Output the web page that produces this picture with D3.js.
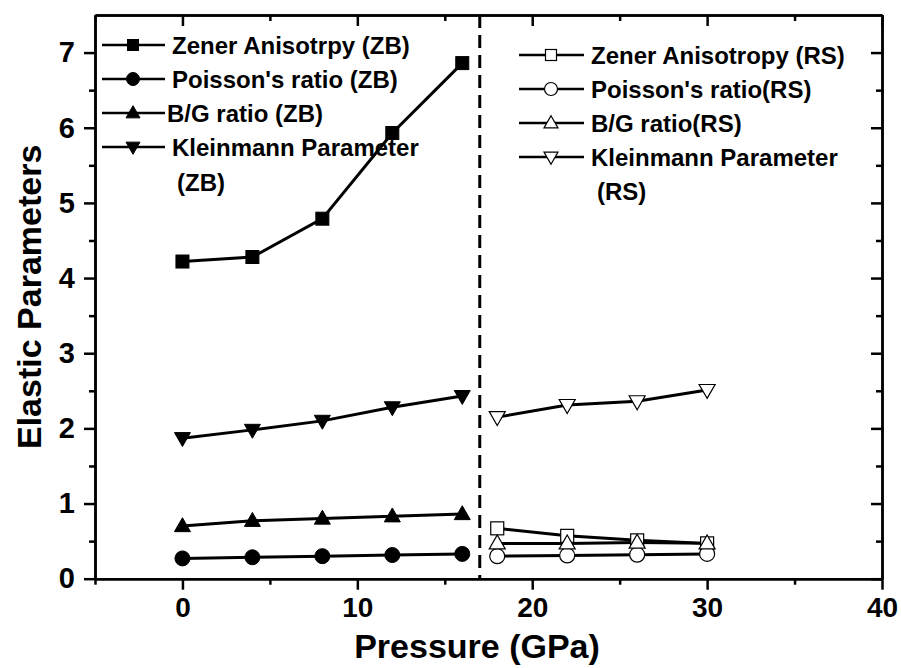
<!DOCTYPE html>
<html>
<head>
<meta charset="utf-8">
<script src="https://cdn.jsdelivr.net/npm/d3@7"></script>
<style>
  body { margin: 0; background: #fff; }
  svg { display: block; }
  text { font-family: "Liberation Sans", Arial, sans-serif; font-weight: bold; fill: #000; }
</style>
</head>
<body>
<svg id="chart" width="901" height="668"></svg>
<script>
// ---- data ----
const pressureZB = [0, 4, 8, 12, 16];
const pressureRS = [18, 22, 26, 30];
const zenerZB = [4.22, 4.28, 4.79, 5.93, 6.86];
const poissonZB = [0.27, 0.285, 0.30, 0.315, 0.33];
const bgZB = [0.70, 0.77, 0.80, 0.83, 0.86];
const kleinZB = [1.87, 1.98, 2.10, 2.28, 2.43];
const zenerRS = [0.67, 0.57, 0.51, 0.47];
const poissonRS = [0.30, 0.31, 0.32, 0.33];
const bgRS = [0.47, 0.47, 0.48, 0.47];
const kleinRS = [2.15, 2.31, 2.36, 2.51];
const xMajorTicks = [0, 10, 20, 30, 40];
const xMinorTicks = [-5, 5, 15, 25, 35];
const yMajorTicks = [0, 1, 2, 3, 4, 5, 6, 7];
const yMinorTicks = [0.5, 1.5, 2.5, 3.5, 4.5, 5.5, 6.5];
const transitionPressure = 17;
const legendZB = ["Zener Anisotrpy (ZB)", "Poisson's ratio (ZB)", "B/G ratio (ZB)", "Kleinmann Parameter"];
const legendRS = ["Zener Anisotropy (RS)", "Poisson's ratio(RS)", "B/G ratio(RS)", "Kleinmann Parameter"];

const svg = d3.select("#chart");
const L = 95, R = 882, T = 15, B = 578.7;
const x = d3.scaleLinear().domain([-5, 40]).range([L, R]);
const y = d3.scaleLinear().domain([0, 7.5]).range([B, T]);

// ---- axes ----
function styleAxis(g) {
  g.selectAll("path.domain").attr("stroke", "#000").attr("stroke-width", 2.5);
  g.selectAll(".tick line").attr("stroke", "#000").attr("stroke-width", 2.5);
}
const gx = svg.append("g").attr("transform", `translate(0,${B})`)
  .call(d3.axisBottom(x).tickValues(xMajorTicks).tickSize(11).tickSizeOuter(0).tickPadding(7).tickFormat(d3.format("d")));
gx.selectAll("text").style("font-size", "28px");
styleAxis(gx);
const gxm = svg.append("g").attr("transform", `translate(0,${B})`)
  .call(d3.axisBottom(x).tickValues(xMinorTicks).tickSize(6).tickSizeOuter(0).tickFormat(""));
styleAxis(gxm);

const gy = svg.append("g").attr("transform", `translate(${L},0)`)
  .call(d3.axisLeft(y).tickValues(yMajorTicks).tickSize(11).tickSizeOuter(0).tickPadding(9).tickFormat(d3.format("d")));
gy.selectAll("text").style("font-size", "29px");
styleAxis(gy);
const gym = svg.append("g").attr("transform", `translate(${L},0)`)
  .call(d3.axisLeft(y).tickValues(yMinorTicks).tickSize(6).tickSizeOuter(0).tickFormat(""));
styleAxis(gym);

const gt = svg.append("g").attr("transform", `translate(0,${T})`)
  .call(d3.axisTop(x).tickValues(xMajorTicks).tickSize(-11).tickSizeOuter(0).tickFormat(""));
styleAxis(gt);
const gtm = svg.append("g").attr("transform", `translate(0,${T})`)
  .call(d3.axisTop(x).tickValues(xMinorTicks).tickSize(-6).tickSizeOuter(0).tickFormat(""));
styleAxis(gtm);
const gr = svg.append("g").attr("transform", `translate(${R},0)`)
  .call(d3.axisRight(y).tickValues(yMajorTicks).tickSize(-11).tickSizeOuter(0).tickFormat(""));
styleAxis(gr);
const grm = svg.append("g").attr("transform", `translate(${R},0)`)
  .call(d3.axisRight(y).tickValues(yMinorTicks).tickSize(-6).tickSizeOuter(0).tickFormat(""));
styleAxis(grm);

// titles
svg.append("text").attr("x", 477).attr("y", 658).attr("text-anchor", "middle")
  .style("font-size", "34px").text("Pressure (GPa)");
svg.append("text").attr("transform", `translate(41,${(T + B) / 2}) rotate(-90)`)
  .attr("text-anchor", "middle").style("font-size", "34px").text("Elastic Parameters");

// transition dashed line
svg.append("line").attr("x1", x(transitionPressure)).attr("x2", x(transitionPressure))
  .attr("y1", y(7.5)).attr("y2", y(0))
  .attr("stroke", "#000").attr("stroke-width", 3).attr("stroke-dasharray", "13,7");

// ---- markers ----
function marker(g, type, cx, cy, s, filled) {
  const fill = filled ? "#000" : "#fff";
  const sw = filled ? 1 : 1.2;
  if (type === "square") {
    g.append("rect").attr("x", cx - s / 2).attr("y", cy - s / 2).attr("width", s).attr("height", s)
      .attr("fill", fill).attr("stroke", "#000").attr("stroke-width", sw);
  } else if (type === "circle") {
    g.append("circle").attr("cx", cx).attr("cy", cy).attr("r", s / 2)
      .attr("fill", fill).attr("stroke", "#000").attr("stroke-width", sw);
  } else if (type === "up") {
    const h = s * 0.87;
    g.append("path").attr("d", `M${cx},${cy - h * 0.6}L${cx + s / 2},${cy + h * 0.4}L${cx - s / 2},${cy + h * 0.4}Z`)
      .attr("fill", fill).attr("stroke", "#000").attr("stroke-width", sw);
  } else if (type === "down") {
    const h = s * 0.87;
    g.append("path").attr("d", `M${cx},${cy + h * 0.6}L${cx + s / 2},${cy - h * 0.4}L${cx - s / 2},${cy - h * 0.4}Z`)
      .attr("fill", fill).attr("stroke", "#000").attr("stroke-width", sw);
  }
}

const seriesList = [
  { xs: pressureZB, ys: zenerZB, type: "square", size: 13, filled: true },
  { xs: pressureZB, ys: poissonZB, type: "circle", size: 15, filled: true },
  { xs: pressureZB, ys: bgZB, type: "up", size: 16, filled: true },
  { xs: pressureZB, ys: kleinZB, type: "down", size: 16, filled: true },
  { xs: pressureRS, ys: zenerRS, type: "square", size: 13, filled: false },
  { xs: pressureRS, ys: poissonRS, type: "circle", size: 15, filled: false },
  { xs: pressureRS, ys: bgRS, type: "up", size: 16, filled: false },
  { xs: pressureRS, ys: kleinRS, type: "down", size: 16, filled: false }
];
const line = d3.line().x(d => x(d[0])).y(d => y(d[1]));
seriesList.forEach(s => {
  const pts = s.xs.map((p, i) => [p, s.ys[i]]);
  svg.append("path").attr("d", line(pts)).attr("fill", "none").attr("stroke", "#000").attr("stroke-width", 3);
});
seriesList.forEach(s => {
  const g = svg.append("g");
  s.xs.forEach((p, i) => marker(g, s.type, x(p), y(s.ys[i]), s.size, s.filled));
});

// ---- legends ----
const types = ["square", "circle", "up", "down"];
const legSizes = [11, 13, 14, 14];
function legend(items, filled, x0, x1, xm, xt, ys, lastLine, lastX, lastY) {
  const g = svg.append("g");
  items.forEach((t, i) => {
    g.append("line").attr("x1", x0).attr("x2", x1).attr("y1", ys[i]).attr("y2", ys[i])
      .attr("stroke", "#000").attr("stroke-width", 2.5);
    marker(g, types[i], xm, ys[i], legSizes[i], filled);
    g.append("text").attr("x", xt[i]).attr("y", ys[i]).attr("dy", "0.36em")
      .style("font-size", "24px").text(t);
  });
  g.append("text").attr("x", lastX).attr("y", lastY).attr("dy", "0.36em")
    .style("font-size", "24px").text(lastLine);
}
legend(legendZB, true, 102, 165, 133, [172, 172, 167, 172], [45, 79, 113, 147], "(ZB)", 177, 182);
legend(legendRS, false, 519, 584, 551, [591, 591, 591, 591], [55, 89, 123, 157], "(RS)", 597, 191);
</script>
</body>
</html>
